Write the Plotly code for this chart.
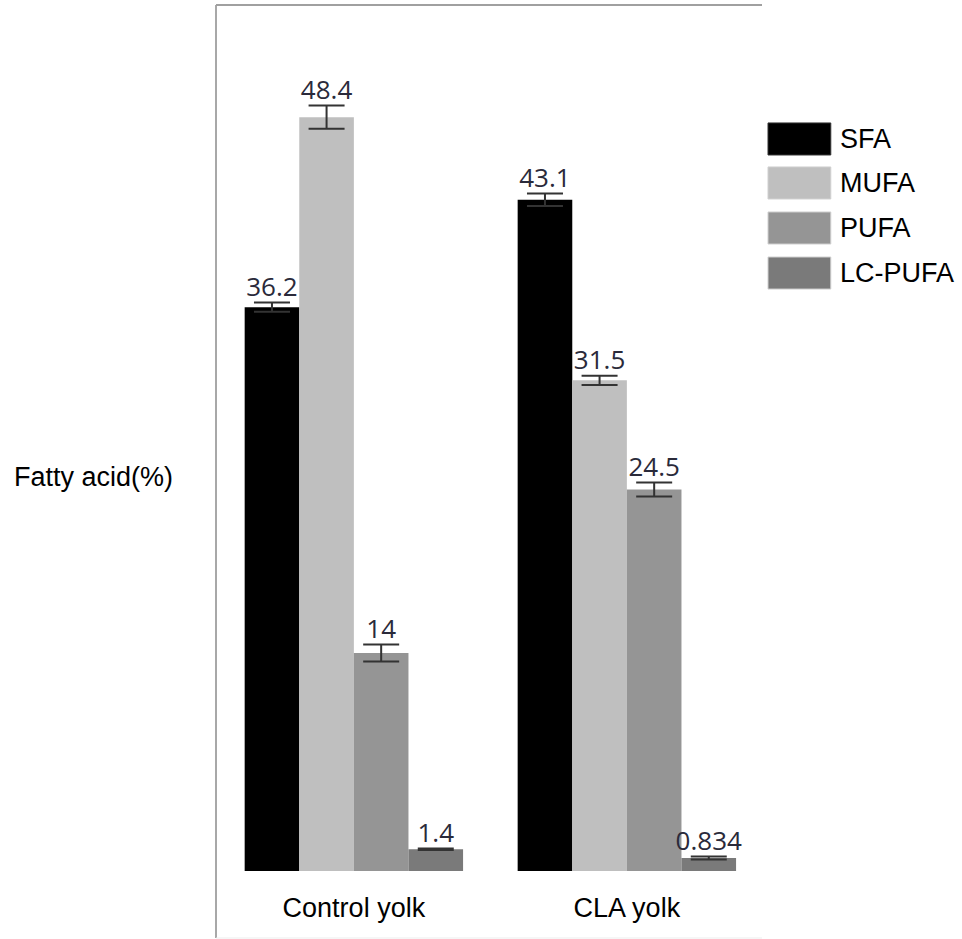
import plotly.graph_objects as go

categories = ["Control yolk", "CLA yolk"]
series_names = ["SFA", "MUFA", "PUFA", "LC-PUFA"]
series_colors = ["#000000", "#bfbfbf", "#959595", "#7a7a7a"]

sfa = [36.2, 43.1]
sfa_err = [0.3, 0.4]
mufa = [48.4, 31.5]
mufa_err = [0.75, 0.3]
pufa = [14, 24.5]
pufa_err = [0.55, 0.45]
lcpufa = [1.4, 0.834]
lcpufa_err = [0.05, 0.1]

values = [sfa, mufa, pufa, lcpufa]
errors = [sfa_err, mufa_err, pufa_err, lcpufa_err]

fig = go.Figure()

for i, (name, vals, errs, col) in enumerate(zip(series_names, values, errors, series_colors)):
    fig.add_trace(go.Bar(
        name=name, x=categories, y=vals, offsetgroup=str(i),
        marker=dict(color=col, line=dict(width=0)),
        error_y=dict(type="data", array=errs, color="#333333", thickness=2, width=18),
        showlegend=False,
    ))

for i, (name, vals, errs) in enumerate(zip(series_names, values, errors)):
    fig.add_trace(go.Scatter(
        x=categories, y=[v + e for v, e in zip(vals, errs)], offsetgroup=str(i),
        mode="text", text=[f"{v:g}" for v in vals], textposition="top center",
        textfont=dict(family="Open Sans", size=26, color="#2a2a3a"),
        showlegend=False, cliponaxis=False, hoverinfo="skip",
    ))

# frame lines
fig.add_shape(type="line", xref="paper", yref="paper", x0=0, x1=0, y0=1, y1=-0.0774,
              line=dict(color="#a8a8a8", width=2))
fig.add_shape(type="line", xref="paper", yref="paper", x0=0, x1=1, y0=1, y1=1,
              line=dict(color="#a0a0a0", width=2))
fig.add_shape(type="line", xref="paper", yref="paper", x0=0, x1=1, y0=-0.0774, y1=-0.0774,
              line=dict(color="#ededed", width=1))

# custom legend
leg_y = [0.8453, 0.7945, 0.7425, 0.6905]
for name, col, yc in zip(series_names, series_colors, leg_y):
    fig.add_shape(type="rect", xref="paper", yref="paper", x0=1.011, x1=1.126,
                  y0=yc - 0.0185, y1=yc + 0.0185, fillcolor=col,
                  line=dict(color="#d0d0d0" if col != "#000000" else "#333333", width=1))
    fig.add_annotation(xref="paper", yref="paper", x=1.139, y=yc, text=name, showarrow=False,
                       xanchor="left", yanchor="middle",
                       font=dict(family="Liberation Sans", size=27, color="#000000"))

fig.add_annotation(xref="paper", yref="paper", x=(12 - 216) / 546, y=(871 - 477) / 866,
                   text="Fatty acid(%)", showarrow=False, xanchor="left", yanchor="middle",
                   font=dict(family="Liberation Sans", size=27, color="#000000"))

fig.update_layout(
    width=962, height=939,
    margin=dict(l=216, r=200, t=5, b=68),
    paper_bgcolor="white", plot_bgcolor="white",
    barmode="group", bargap=0.2, bargroupgap=0,
    scattermode="group", scattergap=0.2,
    xaxis=dict(type="category", range=[-0.505, 1.495], showline=False, showgrid=False,
               ticks="", ticklabelstandoff=18,
               tickfont=dict(family="Liberation Sans", size=27, color="#000000")),
    yaxis=dict(range=[0, 55.6], showticklabels=False, showgrid=False, zeroline=False,
               showline=False, ticks=""),
)

fig.write_html("out.html", config={"displayModeBar": False},
               post_script="document.body.style.margin='0';")
